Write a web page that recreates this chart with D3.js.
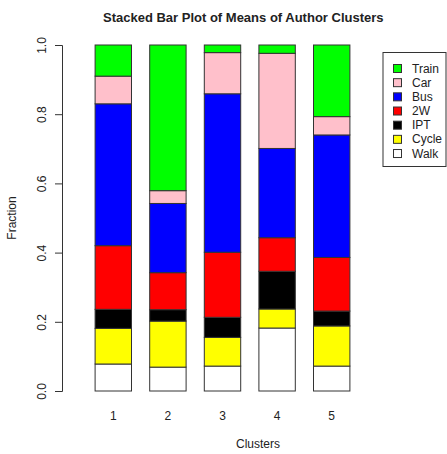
<!DOCTYPE html>
<html>
<head>
<meta charset="utf-8">
<title>Stacked Bar Plot of Means of Author Clusters</title>
<script src="https://cdn.jsdelivr.net/npm/d3@7"></script>
<style>
	body { margin: 0; background: #fff; }
	text { font-family: "Liberation Sans", Arial, sans-serif; fill: #222; }
</style>
</head>
<body>
<div id="chart"></div>
<script>
	// data, stacked bottom (Walk) to top (Train)
	var clusters = ['1', '2', '3', '4', '5'];
	var modes = ['Walk', 'Cycle', 'IPT', '2W', 'Bus', 'Car', 'Train'];
	var colors = ['white', 'yellow', 'black', 'red', 'blue', 'pink', '#00ff00'];
	var walk  = [0.078, 0.069, 0.072, 0.182, 0.072];
	var cycle = [0.103, 0.133, 0.083, 0.055, 0.116];
	var ipt   = [0.055, 0.033, 0.058, 0.109, 0.043];
	var twoW  = [0.184, 0.107, 0.188, 0.097, 0.155];
	var bus   = [0.410, 0.200, 0.458, 0.258, 0.354];
	var car   = [0.080, 0.037, 0.119, 0.275, 0.053];
	var train = [0.090, 0.421, 0.022, 0.024, 0.207];
	var yTicks = [0, 0.2, 0.4, 0.6, 0.8, 1.0];

	var series = [walk, cycle, ipt, twoW, bus, car, train];
	var rows = clusters.map(function(c, i) {
		var r = { cluster: c };
		modes.forEach(function(m, j) { r[m] = series[j][i]; });
		return r;
	});

	var width = 447, height = 454;
	var svg = d3.select('#chart').append('svg')
		.attr('width', width)
		.attr('height', height);

	var x = d3.scaleBand()
		.domain(clusters)
		.range([86, 359])
		.paddingInner(1 / 3)
		.paddingOuter(1 / 6);

	var y = d3.scaleLinear()
		.domain([0, 1])
		.range([391, 45]);

	var stack = d3.stack().keys(modes)(rows);
	var color = d3.scaleOrdinal().domain(modes).range(colors);

	svg.append('g').selectAll('g')
		.data(stack)
		.enter()
		.append('g')
		.attr('fill', function(d) { return color(d.key); })
		.selectAll('rect')
		.data(function(d) { return d; })
		.enter()
		.append('rect')
		.attr('x', function(d) { return x(d.data.cluster); })
		.attr('y', function(d) { return y(d[1]); })
		.attr('width', x.bandwidth())
		.attr('height', function(d) { return y(d[0]) - y(d[1]); })
		.attr('stroke', '#333')
		.attr('stroke-width', 1);

	// y axis, R style
	var yAxis = svg.append('g')
		.attr('transform', 'translate(62,0)')
		.call(d3.axisLeft(y).tickValues(yTicks).tickSize(7).tickFormat(d3.format('.1f')));
	yAxis.select('.domain').attr('stroke', '#333');
	yAxis.selectAll('.tick line').attr('stroke', '#333');
	yAxis.selectAll('.tick text')
		.attr('x', 0).attr('y', 0).attr('dy', null)
		.attr('transform', 'translate(-20,0) rotate(-90)')
		.attr('text-anchor', 'middle')
		.attr('dominant-baseline', 'central')
		.style('font-size', '12px')
		.style('font-family', '"Liberation Sans", Arial, sans-serif')
		.attr('fill', '#222');

	// cluster labels
	svg.append('g').selectAll('text')
		.data(clusters)
		.enter()
		.append('text')
		.attr('x', function(d) { return x(d) + x.bandwidth() / 2; })
		.attr('y', 420)
		.attr('text-anchor', 'middle')
		.style('font-size', '12px')
		.text(function(d) { return d; });

	svg.append('text')
		.attr('x', 103)
		.attr('y', 22)
		.style('font-size', '13px')
		.style('font-weight', 'bold')
		.attr('fill', '#000')
		.text('Stacked Bar Plot of Means of Author Clusters');

	svg.append('text')
		.attr('x', 258)
		.attr('y', 448)
		.attr('text-anchor', 'middle')
		.style('font-size', '12px')
		.text('Clusters');

	svg.append('text')
		.attr('transform', 'translate(12,218) rotate(-90)')
		.attr('text-anchor', 'middle')
		.attr('dominant-baseline', 'central')
		.style('font-size', '12px')
		.text('Fraction');

	// legend, Train on top
	var legend = svg.append('g');
	legend.append('rect')
		.attr('x', 383).attr('y', 52.5)
		.attr('width', 63).attr('height', 114)
		.attr('fill', 'white')
		.attr('stroke', '#333');
	var items = modes.slice().reverse();
	var li = legend.selectAll('g.item')
		.data(items)
		.enter()
		.append('g')
		.attr('class', 'item')
		.attr('transform', function(d, i) { return 'translate(0,' + (68.5 + i * 14.17) + ')'; });
	li.append('rect')
		.attr('x', 393.5).attr('y', -4)
		.attr('width', 8).attr('height', 8)
		.attr('fill', function(d) { return color(d); })
		.attr('stroke', '#333');
	li.append('text')
		.attr('x', 412)
		.attr('y', 0)
		.attr('dominant-baseline', 'central')
		.style('font-size', '12px')
		.text(function(d) { return d; });
</script>
</body>
</html>
